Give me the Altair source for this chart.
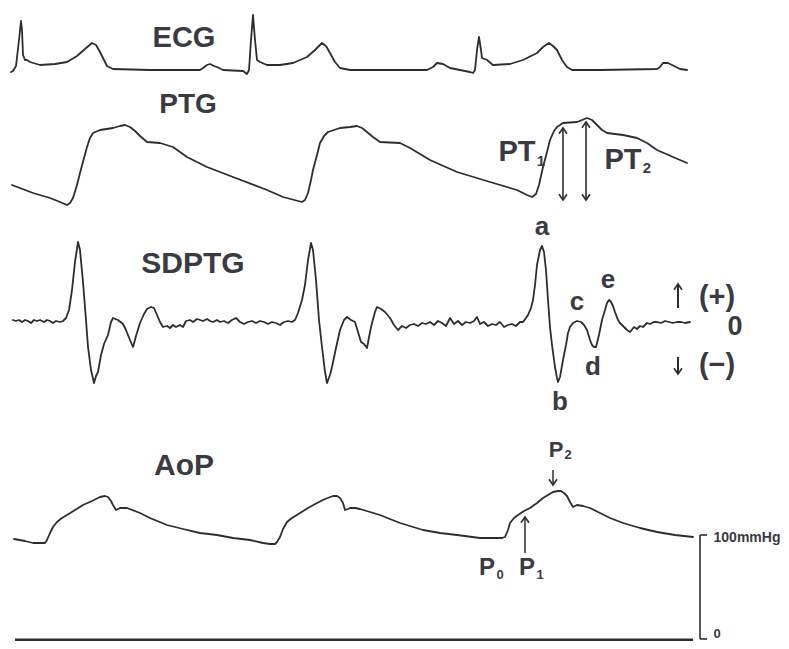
import altair as alt
import pandas as pd

# ---------------- trace samples (time position, amplitude) ----------------
ecg_t = [11, 13, 16, 19, 21, 22, 23, 25, 27, 30, 40, 55, 67, 77, 85, 92, 96, 100, 104, 107, 113, 150, 200,
         203, 207, 210, 214, 217, 223, 243, 247, 249, 251, 253, 255, 257, 260, 267, 280, 293, 307, 315, 322,
         326, 330, 335, 340, 350, 400, 427, 433, 437, 443, 450, 470, 473, 475, 477, 479, 481, 482, 487, 493,
         510, 523, 537, 543, 549, 553, 557, 562, 567, 572, 600, 657, 660, 663, 668, 672, 680, 687]
ecg_v = [72, 71, 66, 40, 21, 30, 55, 60, 60, 62, 65, 64, 62, 56, 49, 43, 45, 52, 60, 66, 69, 70, 70,
         68, 65, 64, 66, 67, 70, 71, 74, 70, 40, 15, 40, 60, 62, 65, 65, 63, 57, 50, 43,
         46, 53, 62, 68, 70, 70, 70, 67, 63, 64, 68, 72, 73, 70, 50, 37, 50, 58, 60, 65,
         64, 60, 53, 47, 43, 46, 50, 60, 67, 70, 70, 69, 67, 63, 63, 65, 69, 70]

ptg_t = [12, 33, 50, 60, 67, 70, 73, 77, 80, 84, 87, 90, 93, 100, 113, 120, 125, 130, 135, 140, 147, 160,
         173, 187, 207, 233, 267, 283, 302, 305, 308, 311, 313, 317, 320, 324, 328, 340, 350, 357, 362, 367,
         373, 380, 400, 410, 430, 457, 490, 517, 527, 532, 536, 539, 543, 547, 550, 554, 557, 563, 577, 587,
         592, 597, 602, 607, 623, 637, 647, 657, 673, 687]
ptg_v = [185, 193, 198, 202, 205, 203, 198, 185, 173, 158, 147, 138, 133, 130, 128, 126, 125, 127, 131, 136,
         142, 143, 147, 157, 167, 177, 190, 197, 202, 200, 193, 180, 170, 155, 143, 136, 132, 128, 127, 126,
         128, 132, 137, 142, 143, 148, 160, 172, 182, 190, 195, 197, 194, 185, 167, 152, 140, 131, 127, 123,
         122, 118, 120, 125, 130, 133, 135, 138, 143, 150, 157, 163]

sdptg_t = [13, 16, 19, 22, 25, 28, 31, 34, 37, 40, 44, 47, 50, 53, 56, 60, 63, 66, 69, 72, 75, 78, 80, 83,
           86, 88, 91, 94, 96, 98, 101, 104, 108, 111, 113, 118, 123, 126, 130, 133, 136, 140, 144, 147, 151,
           154, 157, 160, 163, 167, 170, 173, 176, 180, 183, 186, 190, 193, 197, 200, 203, 207, 210, 213, 217,
           220, 224, 228, 232, 236, 240, 244, 248, 252, 256, 260, 264, 268, 272, 276, 280, 284, 288, 292, 295,
           298, 302, 305, 308, 311, 313, 316, 319, 322, 325, 327, 330, 332, 336, 340, 344, 347, 351, 355, 358,
           361, 364, 367, 370, 372, 375, 377, 381, 385, 390, 394, 398, 402, 406, 410, 414, 418, 422, 426, 430,
           434, 438, 442, 446, 450, 454, 458, 462, 466, 470, 474, 477, 480, 484, 488, 492, 496, 500, 504, 508,
           512, 516, 520, 523, 526, 528, 531, 533, 535, 537, 540, 542, 544, 546, 548, 550, 552, 555, 557, 558,
           560, 563, 566, 568, 570, 573, 577, 581, 584, 587, 590, 592, 594, 596, 599, 602, 605, 607, 609, 611,
           613, 615, 618, 620, 623, 627, 630, 634, 637, 640, 643, 647, 650, 654, 657, 661, 665, 669, 673, 677,
           681, 685, 690]
sdptg_v = [320, 321, 320, 322, 320, 321, 323, 320, 321, 320, 322, 320, 321, 323, 321, 322, 321, 318, 310, 290,
           262, 242, 250, 282, 320, 347, 370, 383, 376, 372, 355, 344, 335, 322, 318, 320, 324, 330, 340, 347,
           336, 323, 314, 309, 307, 308, 315, 322, 327, 326, 328, 325, 327, 325, 327, 321, 320, 322, 319, 320,
           321, 319, 321, 322, 320, 322, 321, 323, 320, 318, 322, 324, 322, 321, 323, 321, 322, 324, 322, 323,
           325, 322, 321, 322, 320, 313, 300, 285, 260, 243, 250, 280, 320, 347, 372, 383, 375, 367, 348, 330,
           320, 317, 320, 322, 332, 342, 344, 348, 332, 323, 312, 307, 309, 312, 318, 325, 330, 326, 328, 325,
           324, 326, 323, 324, 322, 325, 321, 323, 326, 318, 324, 321, 325, 322, 323, 321, 317, 324, 322, 326,
           324, 325, 322, 327, 325, 324, 326, 322, 322, 318, 315, 308, 300, 285, 265, 250, 246, 252, 270, 300,
           327, 345, 367, 378, 382, 377, 360, 345, 333, 327, 323, 321, 322, 325, 330, 340, 345, 347, 347, 335,
           320, 310, 303, 300, 302, 306, 312, 320, 323, 326, 330, 332, 327, 329, 326, 327, 323, 324, 322, 322,
           323, 321, 322, 323, 322, 322, 323, 322]

aop_t = [14, 25, 33, 40, 45, 47, 50, 53, 57, 62, 67, 75, 83, 92, 100, 105, 108, 111, 113, 116, 118, 120, 127,
         140, 150, 167, 183, 200, 217, 233, 250, 263, 270, 275, 277, 280, 283, 287, 292, 300, 308, 317, 325,
         333, 337, 340, 343, 345, 348, 350, 355, 360, 380, 400, 423, 440, 457, 480, 490, 502, 505, 508, 510,
         514, 518, 524, 530, 537, 543, 548, 553, 558, 561, 564, 567, 570, 573, 575, 577, 583, 590, 600, 610,
         623, 640, 657, 675, 693]
aop_v = [539, 541, 543, 543, 543, 540, 533, 527, 522, 518, 515, 510, 505, 501, 497, 496, 497, 501, 505, 510,
         509, 508, 508, 513, 518, 525, 529, 533, 535, 538, 540, 543, 544, 544, 542, 537, 529, 522, 518, 513,
         508, 503, 499, 496, 496, 498, 503, 510, 509, 508, 508, 509, 515, 523, 530, 533, 535, 538, 538, 538,
         537, 530, 523, 518, 515, 511, 508, 503, 498, 495, 492, 491, 491, 493, 496, 502, 507, 506, 505, 506,
         508, 513, 518, 523, 528, 532, 535, 537]

# ---------------- labels ----------------
label_text = ["ECG", "PTG", "SDPTG", "AoP", "PT", "1", "PT", "2", "a", "b", "c", "d", "e",
              "(+)", "0", "(\u2212)", "P", "2", "P", "0", "P", "1", "100mmHg", "0"]
label_x = [184, 188, 193, 184, 517, 541, 623, 647, 542, 560, 577, 593, 608,
           717, 735, 717, 556, 568, 487, 500, 527, 540, 747, 717]
label_y = [38, 105, 264, 466, 152, 161, 160, 168, 227, 402, 302, 367, 280,
           297, 327, 365, 450, 455, 568, 575, 568, 575, 538, 634]
label_size = [29, 28, 30, 30, 29, 15, 29, 15, 26, 26, 26, 26, 26,
              29, 27, 29, 22, 13, 24, 13, 24, 13, 14, 13]

# annotation arrows / scale bar (shafts)
seg_x = [563, 586, 553, 525, 678, 678, 700, 700, 700, 15]
seg_y = [128, 122, 470, 553, 308, 357, 535, 535, 639, 640]
seg_x2 = [563, 586, 553, 525, 678, 678, 707, 700, 707, 693]
seg_y2 = [200, 200, 485, 517, 284, 374, 535, 639, 639, 640]
seg_w = [1.6, 1.6, 1.5, 1.5, 2, 2, 1.6, 1.6, 1.6, 3]

head_up_x = [563, 586, 525, 678]
head_up_y = [128, 122, 517, 284]
head_dn_x = [563, 586, 553, 678]
head_dn_y = [200, 200, 485, 374]

# ---------------- build tables ----------------
frames = []
for name, t, v in [("ECG", ecg_t, ecg_v), ("PTG", ptg_t, ptg_v),
                   ("SDPTG", sdptg_t, sdptg_v), ("AoP", aop_t, aop_v)]:
    frames.append(pd.DataFrame({"t": t, "v": v, "trace": name, "i": range(len(t))}))
traces = pd.concat(frames, ignore_index=True)

labels = pd.DataFrame({"x": label_x, "y": label_y, "text": label_text, "fs": label_size})
segs = pd.DataFrame({"x": seg_x, "y": seg_y, "x2": seg_x2, "y2": seg_y2, "w": seg_w})
ups = pd.DataFrame({"x": head_up_x, "y": head_up_y})
dns = pd.DataFrame({"x": head_dn_x, "y": head_dn_y})

XS = alt.Scale(domain=[8, 781], nice=False, zero=False)
YS = alt.Scale(domain=[8, 641], nice=False, zero=False, reverse=True)

INK = "#2c2c32"
TXT = "#3a3a42"

lines = alt.Chart(traces).mark_line(color=INK, strokeWidth=1.8, strokeJoin="round", strokeCap="round").encode(
    x=alt.X("t:Q", scale=XS, axis=None),
    y=alt.Y("v:Q", scale=YS, axis=None),
    detail="trace:N",
    order="i:Q",
)

rules = alt.Chart(segs).mark_rule(color=INK).encode(
    x=alt.X("x:Q", scale=XS, axis=None),
    y=alt.Y("y:Q", scale=YS, axis=None),
    x2="x2:Q",
    y2="y2:Q",
    strokeWidth=alt.StrokeWidth("w:Q", scale=None, legend=None),
)

head_up = alt.Chart(ups).mark_point(shape="M-0.7,1L0,0L0.7,1", size=130, filled=False,
                                    color=INK, strokeWidth=1.6, opacity=1).encode(
    x=alt.X("x:Q", scale=XS, axis=None),
    y=alt.Y("y:Q", scale=YS, axis=None),
)
head_dn = alt.Chart(dns).mark_point(shape="M-0.7,-1L0,0L0.7,-1", size=130, filled=False,
                                    color=INK, strokeWidth=1.6, opacity=1).encode(
    x=alt.X("x:Q", scale=XS, axis=None),
    y=alt.Y("y:Q", scale=YS, axis=None),
)

texts = alt.Chart(labels).mark_text(font="Liberation Sans", fontWeight="bold", color=TXT,
                                    align="center", baseline="middle").encode(
    x=alt.X("x:Q", scale=XS, axis=None),
    y=alt.Y("y:Q", scale=YS, axis=None),
    text="text:N",
    size=alt.Size("fs:Q", scale=None, legend=None),
)

chart = alt.layer(lines, rules, head_up, head_dn, texts).properties(
    width=773, height=633, padding=0,
    autosize=alt.AutoSizeParams(type="none"),
    background="white",
).configure_view(stroke=None)

chart.save("out.html", embed_options={"renderer": "svg", "actions": False})
